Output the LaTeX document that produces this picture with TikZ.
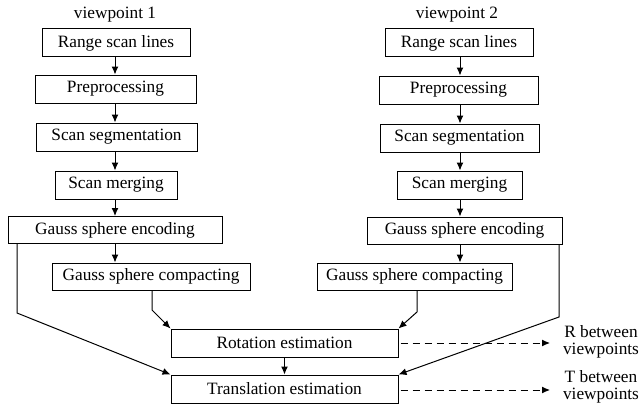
\documentclass[tikz,border=0pt]{standalone}
\usepackage{fontspec}
\setmainfont{Liberation Serif}
\usetikzlibrary{arrows.meta}
\begin{document}
\begin{tikzpicture}[x=1pt,y=-1pt,
  every node/.style={font=\fontsize{17.3}{20}\selectfont},
  box/.style={draw,line width=1pt,inner sep=0pt,minimum height=28pt},
  conn/.style={line width=1pt,-{Latex[length=8pt,width=7pt]}},
  dconn/.style={line width=1pt,dash pattern=on 7pt off 5pt,-{Latex[length=8pt,width=7pt]}},
  lbl/.style={inner sep=0pt,align=center},
  outlbl/.style={inner sep=0pt,align=center,font=\fontsize{17.3}{16.5}\selectfont}]
\useasboundingbox (0,0) rectangle (642,404);
% left column
\node[lbl] (v1) at (115,15) {viewpoint 1};
\node[box,minimum width=148pt] (rs1) at (116,43) {Range scan lines};
\node[box,minimum width=161pt] (pp1) at (115.5,89) {Preprocessing};
\node[box,minimum width=161pt] (ss1) at (116.5,137) {Scan segmentation};
\node[box,minimum width=122pt] (sm1) at (116,185) {Scan merging};
\node[box,minimum width=214pt,minimum height=27pt] (ge1) at (115,230) {Gauss sphere encoding};
\node[box,minimum width=198pt,minimum height=27pt] (gc1) at (151,276.5) {Gauss sphere compacting};
% right column
\node[lbl] (v2) at (457,15) {viewpoint 2};
\node[box,minimum width=148pt] (rs2) at (459,43) {Range scan lines};
\node[box,minimum width=159pt] (pp2) at (458.5,90) {Preprocessing};
\node[box,minimum width=159pt] (ss2) at (459.5,138) {Scan segmentation};
\node[box,minimum width=125pt] (sm2) at (459.5,185) {Scan merging};
\node[box,minimum width=195pt,minimum height=27pt] (ge2) at (464.5,230.5) {Gauss sphere encoding};
\node[box,minimum width=195pt,minimum height=27pt] (gc2) at (414.5,276.5) {Gauss sphere compacting};
% bottom
\node[box,minimum width=227pt] (rot) at (284.5,343) {Rotation estimation};
\node[box,minimum width=227pt] (tr) at (284.5,389) {Translation estimation};
\node[outlbl] (rout) at (601,342) {R between\\viewpoints};
\node[outlbl] (tout) at (601,387) {T between\\viewpoints};
\coordinate (rend) at (550,343);
\coordinate (tend) at (550,390);
% vertical arrows left
\draw[conn] (115,57) -- (pp1.north -| 115,0);
\draw[conn] (115,103) -- (ss1.north -| 115,0);
\draw[conn] (115,151) -- (sm1.north -| 115,0);
\draw[conn] (115,199) -- (ge1.north -| 115,0);
\draw[conn] (ge1.south) -- (gc1.north -| ge1.south);
% vertical arrows right
\draw[conn] (460,57) -- (pp2.north -| 460,0);
\draw[conn] (460,104) -- (ss2.north -| 460,0);
\draw[conn] (460,152) -- (sm2.north -| 460,0);
\draw[conn] (460,199) -- (ge2.north -| 460,0);
\draw[conn] (ge2.south -| 460,0) -- (gc2.north -| 460,0);
% converging connectors
\draw[conn] (ge1.south -| 17,0) -- (17,313) -- (tr.north west);
\draw[conn] (gc1.south -| 152,0) -- (152,310) -- (rot.north west);
\draw[conn] (gc2.south -| 417,0) -- (417,312) -- (rot.north east);
\draw[conn] (ge2.south -| 559,0) -- (559,317) -- (tr.north east);
\draw[conn] (rot.south) -- (tr.north);
% outputs
\draw[dconn] ([xshift=2pt]rot.east) -- (rend);
\draw[dconn] ([xshift=2pt]tr.east |- tend) -- (tend);
\end{tikzpicture}
\end{document}
